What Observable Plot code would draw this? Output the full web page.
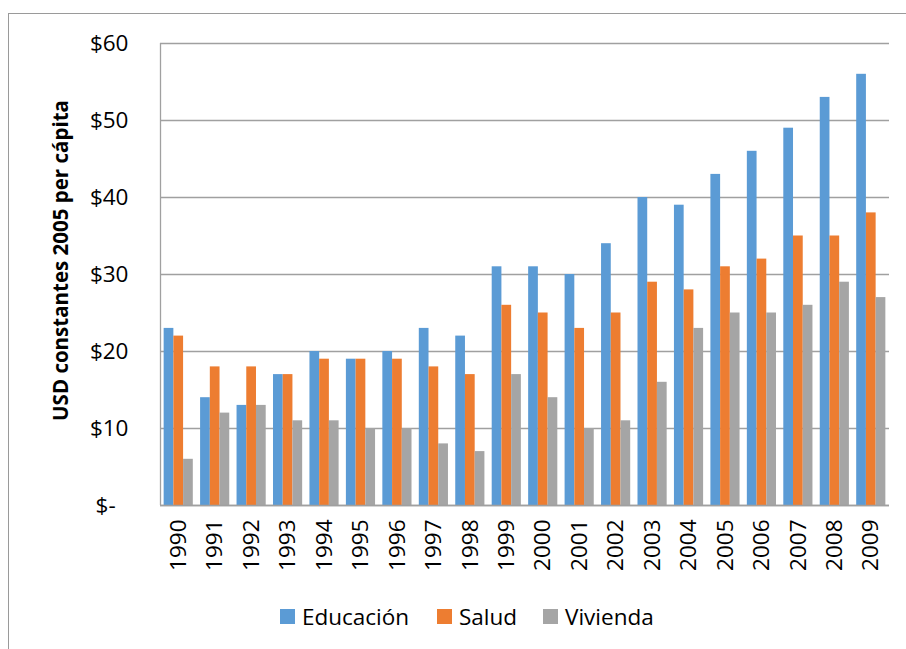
<!DOCTYPE html>
<html>
<head>
<meta charset="utf-8">
<script src="https://cdn.jsdelivr.net/npm/d3@7"></script>
<script src="https://cdn.jsdelivr.net/npm/@observablehq/plot@0.6"></script>
<style>
  html, body { margin: 0; padding: 0; background: #fff; }
  #wrap { position: relative; width: 906px; height: 649px; overflow: hidden; font-family: "Open Sans", sans-serif; }
  #border { position: absolute; left: 8px; top: 13px; width: 1200px; height: 1200px; border: 1.3px solid #9a9a9a; box-sizing: border-box; }
  #chart { position: absolute; left: 0; top: 0; }
  #legend { position: absolute; left: 0; top: 600px; width: 906px; height: 49px; }
  .item { position: absolute; top: 1px; display: flex; align-items: center; font-size: 22.5px; color: #000; }
  .sw { width: 15px; height: 15px; margin-right: 7px; }
</style>
</head>
<body>
<div id="wrap">
  <div id="border"></div>
  <div id="chart"></div>
  <div id="legend"></div>
</div>
<script>
const years = [1990,1991,1992,1993,1994,1995,1996,1997,1998,1999,2000,2001,2002,2003,2004,2005,2006,2007,2008,2009];
const seriesNames = ["Educación", "Salud", "Vivienda"];
const educacion = [23,14,13,17,20,19,20,23,22,31,31,30,34,40,39,43,46,49,53,56];
const salud     = [22,18,18,17,19,19,19,18,17,26,25,23,25,29,28,31,32,35,35,38];
const vivienda  = [6,12,13,11,11,10,10,8,7,17,14,10,11,16,23,25,25,26,29,27];
const colors = ["#5B9BD5", "#ED7D31", "#A5A5A5"];
const yTicks = [0,10,20,30,40,50,60];

const seriesValues = [educacion, salud, vivienda];
const data = [];
years.forEach((yr, j) => {
  seriesNames.forEach((s, i) => {
    data.push({year: yr, series: s, i, value: seriesValues[i][j]});
  });
});

const barW = 0.8 / 3;
const chart = Plot.plot({
  width: 906,
  height: 600,
  marginLeft: 160,
  marginRight: 17,
  marginTop: 43,
  marginBottom: 95,
  style: {fontFamily: "'Open Sans', sans-serif", background: "transparent", color: "#000"},
  x: {domain: [years[0] - 0.5, years[years.length - 1] + 0.5]},
  y: {domain: [0, 60]},
  color: {domain: seriesNames, range: colors},
  marks: [
    Plot.gridY(yTicks, {stroke: "#a0a0a0", strokeOpacity: 1, strokeWidth: 1.3}),
    Plot.rectY(data, {
      x1: d => d.year - 0.4 + d.i * barW,
      x2: d => d.year - 0.4 + (d.i + 1) * barW,
      y1: 0,
      y2: "value",
      fill: "series"
    }),
    Plot.ruleY([0], {stroke: "#a0a0a0", strokeWidth: 1.3}),
    Plot.ruleX([years[0] - 0.5], {y1: 0, y2: 60, stroke: "#a0a0a0", strokeWidth: 1.3}),
    Plot.axisY(yTicks, {
      tickSize: 0,
      tickPadding: 32,
      fontSize: 22.5,
      tickFormat: d => d === 0 ? "$-\u2007" : "$" + d,
      label: "USD constantes 2005 per cápita",
      labelArrow: "none",
      labelAnchor: "center",
      labelOffset: 107
    }),
    Plot.axisX(years, {
      tickSize: 0,
      tickPadding: 14,
      tickRotate: -90,
      fontSize: 22.5,
      tickFormat: d => String(d),
      label: null
    })
  ]
});
document.getElementById("chart").appendChild(chart);

// style y label bold and nudge it to the reference position
chart.querySelectorAll("g[aria-label='y-axis label'] text").forEach(t => {
  t.textContent = "USD constantes 2005 per cápita";
  t.setAttribute("font-weight", "bold");
  t.setAttribute("font-size", "20.5");
  t.setAttribute("dx", "14");
});

const legend = document.getElementById("legend");
const lefts = [280, 437, 543];
seriesNames.forEach((s, i) => {
  const it = document.createElement("div");
  it.className = "item";
  it.style.left = lefts[i] + "px";
  const sw = document.createElement("span");
  sw.className = "sw";
  sw.style.background = colors[i];
  const tx = document.createElement("span");
  tx.textContent = s;
  it.appendChild(sw);
  it.appendChild(tx);
  legend.appendChild(it);
});
</script>
</body>
</html>
